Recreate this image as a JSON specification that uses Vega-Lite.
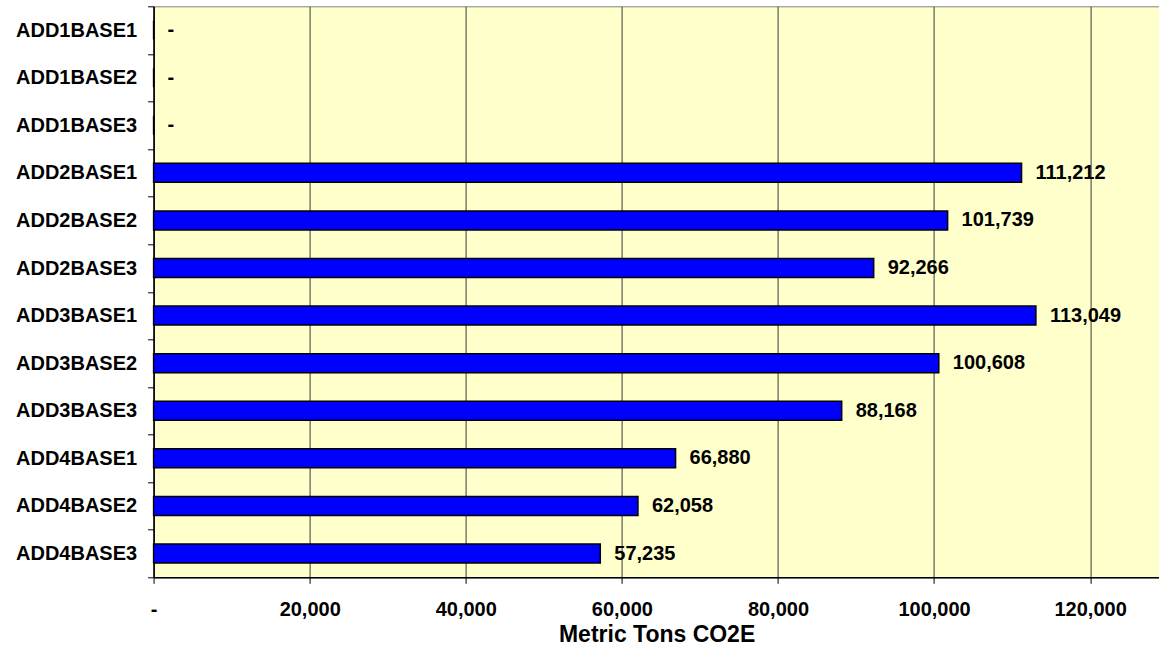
{
  "$schema": "https://vega.github.io/schema/vega-lite/v6.json",
  "width": 1006,
  "height": 571,
  "autosize": {"type": "none"},
  "padding": {"left": 153.6, "top": 6.3, "right": 0, "bottom": 82.7},
  "background": "#ffffff",
  "config": {
    "view": {"fill": "#ffffcc", "stroke": "#808080", "strokeWidth": 1},
    "font": "Liberation Sans"
  },
  "data": {
    "values": [
      {"scenario": "ADD1BASE1", "tons": 0},
      {"scenario": "ADD1BASE2", "tons": 0},
      {"scenario": "ADD1BASE3", "tons": 0},
      {"scenario": "ADD2BASE1", "tons": 111212},
      {"scenario": "ADD2BASE2", "tons": 101739},
      {"scenario": "ADD2BASE3", "tons": 92266},
      {"scenario": "ADD3BASE1", "tons": 113049},
      {"scenario": "ADD3BASE2", "tons": 100608},
      {"scenario": "ADD3BASE3", "tons": 88168},
      {"scenario": "ADD4BASE1", "tons": 66880},
      {"scenario": "ADD4BASE2", "tons": 62058},
      {"scenario": "ADD4BASE3", "tons": 57235}
    ]
  },
  "encoding": {
    "y": {
      "field": "scenario",
      "type": "nominal",
      "sort": null,
      "scale": {"paddingInner": 0, "paddingOuter": 0},
      "axis": {
        "title": null,
        "tickBand": "extent",
        "tickSize": 6,
        "tickColor": "#000000",
        "domainColor": "#000000",
        "domainWidth": 1.5,
        "labelFont": "Liberation Sans",
        "labelFontSize": 20,
        "labelFontWeight": "bold",
        "labelColor": "#000000",
        "labelPadding": 11,
        "grid": false
      }
    },
    "x": {
      "field": "tons",
      "type": "quantitative",
      "scale": {"domain": [0, 128900], "nice": false, "zero": true},
      "axis": {
        "title": "Metric Tons CO2E",
        "titleFont": "Liberation Sans",
        "titleFontSize": 23,
        "titleFontWeight": "bold",
        "titleColor": "#000000",
        "titleBaseline": "alphabetic",
        "titleY": 64.1,
        "values": [0, 20000, 40000, 60000, 80000, 100000, 120000],
        "labelExpr": "datum.value == 0 ? '-\u00a0\u00a0\u00a0\u00a0' : format(datum.value, ',')",
        "labelFont": "Liberation Sans",
        "labelFontSize": 20,
        "labelFontWeight": "bold",
        "labelColor": "#000000",
        "labelBaseline": "alphabetic",
        "labelPadding": 32.1,
        "labelFlush": false,
        "tickSize": 6,
        "tickColor": "#000000",
        "domainColor": "#000000",
        "domainWidth": 1.5,
        "grid": true,
        "gridColor": "#3a3a3a",
        "gridWidth": 1
      }
    }
  },
  "layer": [
    {
      "mark": {"type": "bar", "size": 19, "fill": "#0000ff", "stroke": "#000000", "strokeWidth": 1.5}
    },
    {
      "mark": {
        "type": "text",
        "align": "left",
        "baseline": "middle",
        "dx": 14,
        "font": "Liberation Sans",
        "fontSize": 20,
        "fontWeight": "bold",
        "color": "#000000"
      },
      "encoding": {
        "text": {"value": {"expr": "datum.tons == 0 ? '-' : format(datum.tons, ',')"}}
      }
    }
  ]
}
